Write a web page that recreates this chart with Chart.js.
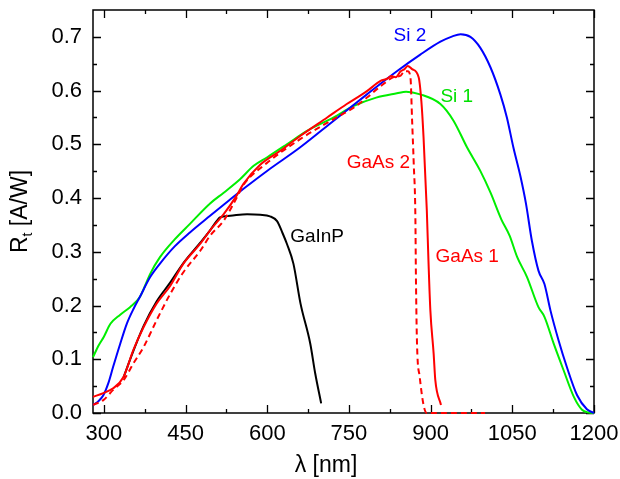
<!DOCTYPE html>
<html>
<head>
<meta charset="utf-8">
<script src="https://cdn.jsdelivr.net/npm/chart.js@4"></script>
<style>
  html, body { margin: 0; padding: 0; background: #fff; }
  canvas { display: block; }
</style>
</head>
<body>
<canvas id="resp" width="620" height="479"></canvas>
<script>
// Axis ticks
const wavelengthTicks = [300, 450, 600, 750, 900, 1050, 1200];
const wavelengthMinor = [375, 525, 675, 825, 975, 1125];
const respTicks = [0, 0.1, 0.2, 0.3, 0.4, 0.5, 0.6, 0.7];
const respMinor = [0.05, 0.15, 0.25, 0.35, 0.45, 0.55, 0.65];

// Si 1
const si1Wl = [280, 290, 300, 312, 330, 348, 366, 376, 385, 403, 430, 458, 495, 520, 550, 575, 600, 636, 673, 722, 758, 800, 838, 855, 881, 918, 942, 967, 991, 1010, 1030, 1045, 1059, 1077, 1098, 1109, 1126, 1144, 1163, 1178, 1190, 1200];
const si1R = [0.104, 0.125, 0.142, 0.166, 0.183, 0.197, 0.216, 0.238, 0.259, 0.29, 0.323, 0.352, 0.39, 0.41, 0.435, 0.46, 0.476, 0.50, 0.525, 0.55, 0.571, 0.587, 0.595, 0.598, 0.593, 0.575, 0.544, 0.494, 0.451, 0.41, 0.36, 0.33, 0.29, 0.253, 0.197, 0.179, 0.129, 0.08, 0.03, 0.006, 0.001, 0.0];

// Si 2
const si2Wl = [280, 290, 299, 308, 317, 330, 342, 355, 366, 385, 403, 430, 458, 495, 529, 560, 599, 660, 722, 783, 838, 881, 918, 940, 955, 973, 991, 1010, 1028, 1040, 1052, 1065, 1075, 1086, 1098, 1109, 1120, 1135, 1150, 1169, 1187, 1200];
const si2R = [0.015, 0.022, 0.033, 0.055, 0.086, 0.129, 0.166, 0.195, 0.216, 0.253, 0.278, 0.31, 0.336, 0.367, 0.395, 0.42, 0.45, 0.494, 0.544, 0.593, 0.636, 0.667, 0.691, 0.701, 0.705, 0.70, 0.68, 0.643, 0.593, 0.55, 0.494, 0.44, 0.39, 0.32, 0.265, 0.24, 0.191, 0.135, 0.086, 0.033, 0.007, 0.0];

// GaAs 1
const gaas1Wl = [280, 299, 317, 336, 354, 373, 397, 422, 446, 477, 495, 520, 544, 556, 587, 624, 661, 710, 746, 783, 808, 820, 828, 836, 845, 852, 858, 866, 878, 883, 887, 893, 896, 899.5, 905.5, 908.6, 919];
const gaas1R = [0.030, 0.037, 0.046, 0.067, 0.117, 0.16, 0.204, 0.237, 0.278, 0.315, 0.34, 0.37, 0.405, 0.426, 0.462, 0.488, 0.516, 0.55, 0.575, 0.599, 0.618, 0.622, 0.627, 0.625, 0.636, 0.640, 0.646, 0.640, 0.625, 0.58, 0.513, 0.377, 0.284, 0.191, 0.111, 0.061, 0.015];

// GaAs 2
const gaas2Wl = [280, 299, 317, 336, 354, 373, 397, 422, 446, 477, 495, 520, 544, 556, 599, 661, 722, 758, 783, 808, 832, 845, 852, 858, 863, 866, 869, 872, 873, 875, 880, 887, 893, 950, 1000];
const gaas2R = [0.015, 0.024, 0.043, 0.061, 0.092, 0.123, 0.173, 0.222, 0.262, 0.302, 0.33, 0.358, 0.401, 0.424, 0.465, 0.51, 0.547, 0.568, 0.587, 0.608, 0.625, 0.628, 0.636, 0.636, 0.624, 0.544, 0.463, 0.364, 0.253, 0.129, 0.067, 0.015, 0.0, 0.0, 0.0];

// GaInP
const gainpWl = [336, 354, 373, 397, 422, 446, 477, 495, 507, 513, 532, 563, 587, 605, 618, 628, 636, 648, 661, 679, 688, 699];
const gainpR = [0.066, 0.115, 0.162, 0.208, 0.243, 0.279, 0.317, 0.34, 0.357, 0.364, 0.367, 0.37, 0.369, 0.366, 0.357, 0.335, 0.315, 0.278, 0.204, 0.129, 0.074, 0.018];

// Curve labels: text, colour, anchor (wavelength, responsivity) at left/baseline
const curveLabels = [
  { text: 'Si 2',   color: '#0000ff', at: [832, 0.692] },
  { text: 'Si 1',   color: '#00e000', at: [918, 0.578] },
  { text: 'GaAs 2', color: '#ff0000', at: [746, 0.456] },
  { text: 'GaAs 1', color: '#ff0000', at: [909, 0.281] },
  { text: 'GaInP',  color: '#000000', at: [642, 0.318] }
];

const FONT = '"Liberation Sans", Arial, sans-serif';
const toPoints = (xs, ys) => xs.map((x, i) => ({ x: x, y: ys[i] }));

function series(label, xs, ys, color, dash) {
  return {
    label: label,
    data: toPoints(xs, ys),
    borderColor: color,
    borderWidth: 2,
    borderDash: dash || [],
    pointRadius: 0,
    fill: false,
    clip: 3,
    cubicInterpolationMode: 'monotone'
  };
}

// Frame and inward tick marks under the curves; curve labels and axis titles on top
const framePlugin = {
  id: 'frameTicks',
  beforeDatasetsDraw(chart) {
    const { ctx, chartArea: a, scales: { x, y } } = chart;
    ctx.save();
    ctx.strokeStyle = '#000';
    ctx.lineWidth = 1.5;
    ctx.strokeRect(a.left, a.top, a.right - a.left, a.bottom - a.top);
    ctx.lineWidth = 1.3;
    ctx.beginPath();
    const xt = (vals, len) => vals.forEach(v => {
      const p = Math.round(x.getPixelForValue(v)) + 0.5;
      ctx.moveTo(p, a.bottom); ctx.lineTo(p, a.bottom - len);
      ctx.moveTo(p, a.top); ctx.lineTo(p, a.top + len);
    });
    const yt = (vals, len) => vals.forEach(v => {
      const p = Math.round(y.getPixelForValue(v)) + 0.5;
      ctx.moveTo(a.left, p); ctx.lineTo(a.left + len, p);
      ctx.moveTo(a.right, p); ctx.lineTo(a.right - len, p);
    });
    xt(wavelengthTicks, 8); xt(wavelengthMinor, 4);
    yt(respTicks, 8); yt(respMinor, 4);
    ctx.stroke();
    ctx.restore();
  },
  afterDatasetsDraw(chart) {
    const { ctx, scales: { x, y } } = chart;
    ctx.save();
    ctx.font = '19px ' + FONT;
    ctx.textAlign = 'left';
    ctx.textBaseline = 'alphabetic';
    curveLabels.forEach(l => {
      ctx.fillStyle = l.color;
      ctx.fillText(l.text, x.getPixelForValue(l.at[0]), y.getPixelForValue(l.at[1]));
    });
    ctx.restore();
  },
  afterDraw(chart) {
    const { ctx, chartArea: a } = chart;
    ctx.save();
    ctx.fillStyle = '#000';
    ctx.textBaseline = 'alphabetic';
    // x title
    ctx.font = '23px ' + FONT;
    ctx.textAlign = 'center';
    ctx.fillText('\u03bb [nm]', a.left + 233, 472);
    // y title: R with subscript t
    const main = 'R', sub = 't', rest = ' [A/W]';
    ctx.font = '23px ' + FONT;
    const wR = ctx.measureText(main).width;
    const wRest = ctx.measureText(rest).width;
    ctx.font = '14px ' + FONT;
    const wSub = ctx.measureText(sub).width;
    const total = wR + wSub + wRest;
    ctx.translate(27, (a.top + a.bottom) / 2);
    ctx.rotate(-Math.PI / 2);
    ctx.textAlign = 'left';
    let cx = -total / 2;
    ctx.font = '23px ' + FONT;
    ctx.fillText(main, cx, 0); cx += wR;
    ctx.font = '14px ' + FONT;
    ctx.fillText(sub, cx, 5); cx += wSub;
    ctx.font = '23px ' + FONT;
    ctx.fillText(rest, cx, 0);
    ctx.restore();
  }
};

new Chart(document.getElementById('resp'), {
  type: 'line',
  data: {
    datasets: [
      series('GaAs 1', gaas1Wl, gaas1R, '#ff0000'),
      series('GaAs 2', gaas2Wl, gaas2R, '#ff0000', [6, 4]),
      series('Si 2', si2Wl, si2R, '#0000ff'),
      series('Si 1', si1Wl, si1R, '#00ee00'),
      series('GaInP', gainpWl, gainpR, '#000000')
    ]
  },
  options: {
    responsive: false,
    devicePixelRatio: 1,
    animation: false,
    layout: { padding: { left: 0, right: 26, top: 10, bottom: 0 } },
    plugins: { legend: { display: false }, tooltip: { enabled: false } },
    scales: {
      x: {
        type: 'linear',
        min: 280,
        max: 1200,
        afterBuildTicks: s => { s.ticks = wavelengthTicks.map(v => ({ value: v })); },
        afterFit: s => { s.height = 66; s.paddingLeft = 0; s.paddingRight = 0; },
        grid: { display: false, drawTicks: false },
        border: { display: false },
        ticks: {
          font: { size: 22, family: FONT },
          color: '#000',
          padding: 8,
          maxRotation: 0,
          autoSkip: false,
          callback: v => String(v)
        }
      },
      y: {
        type: 'linear',
        min: 0,
        max: 0.75,
        afterBuildTicks: s => { s.ticks = respTicks.map(v => ({ value: v })); },
        afterFit: s => { s.width = 93; s.paddingTop = 0; s.paddingBottom = 0; },
        grid: { display: false, drawTicks: false },
        border: { display: false },
        ticks: {
          font: { size: 22, family: FONT },
          color: '#000',
          padding: 11,
          autoSkip: false,
          callback: v => v.toFixed(1)
        }
      }
    }
  },
  plugins: [framePlugin]
});
</script>
</body>
</html>
